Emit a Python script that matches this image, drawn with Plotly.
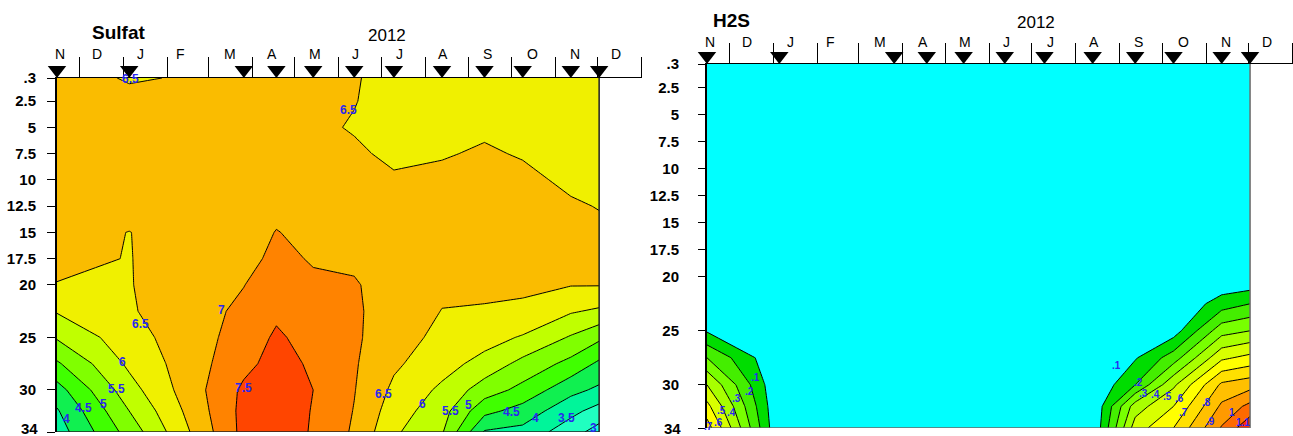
import numpy as np
import plotly.graph_objects as go

W, H = 1293, 436

# ---------------------------------------------------------------- sampling grid
sample_dates = ["2011-11-15", "2012-01-05", "2012-03-26", "2012-04-18",
                "2012-05-14", "2012-06-12", "2012-07-10", "2012-08-13",
                "2012-09-12", "2012-10-09", "2012-11-12", "2012-12-02"]
depths = [0.3, 2.5, 5, 7.5, 10, 12.5, 15, 17.5, 20, 22.5, 25, 27.5, 30, 32, 34]

depth_ticks = [0.3, 2.5, 5, 7.5, 10, 12.5, 15, 17.5, 20, 25, 30, 34]
depth_tick_text = [".3", "2.5", "5", "7.5", "10", "12.5", "15", "17.5", "20", "25", "30", "34"]

month_starts = ["2011-12-01", "2012-01-01", "2012-02-01", "2012-03-01", "2012-04-01",
                "2012-05-01", "2012-06-01", "2012-07-01", "2012-08-01", "2012-09-01",
                "2012-10-01", "2012-11-01", "2012-12-01", "2013-01-01"]
month_label_dates = ["2011-11-17", "2011-12-13", "2012-01-13", "2012-02-10", "2012-03-16",
                     "2012-04-15", "2012-05-15", "2012-06-13", "2012-07-14", "2012-08-14",
                     "2012-09-14", "2012-10-16", "2012-11-15", "2012-12-14"]
month_letters = ["N", "D", "J", "F", "M", "A", "M", "J", "J", "A", "S", "O", "N", "D"]

# ---------------------------------------------------------------- sulfate profiles (surface -> bottom)
so4_11_15 = [6.60, 6.60, 6.62, 6.63, 6.63, 6.62, 6.60, 6.57, 6.49, 6.04, 5.55, 4.93, 4.30, 3.95, 3.75]
so4_01_05 = [6.48, 6.56, 6.60, 6.62, 6.62, 6.60, 6.495, 6.49, 6.48, 6.45, 6.30, 6.10, 5.80, 5.50, 5.20]
so4_03_26 = [6.55, 6.62, 6.65, 6.67, 6.68, 6.70, 6.74, 6.80, 6.99, 7.10, 7.20, 7.35, 7.60, 7.65, 7.65]
so4_04_18 = [6.60, 6.62, 6.65, 6.68, 6.70, 6.85, 7.02, 7.15, 7.25, 7.40, 7.58, 7.70, 7.80, 7.82, 7.80]
so4_05_14 = [6.62, 6.63, 6.55, 6.65, 6.70, 6.75, 6.85, 6.95, 7.10, 7.20, 7.30, 7.42, 7.50, 7.47, 7.45]
so4_06_12 = [6.52, 6.51, 6.48, 6.54, 6.60, 6.70, 6.80, 6.90, 7.05, 7.08, 7.08, 7.05, 7.02, 6.98, 6.93]
so4_07_10 = [6.41, 6.40, 6.43, 6.45, 6.53, 6.60, 6.65, 6.70, 6.75, 6.75, 6.70, 6.58, 6.40, 6.25, 6.08]
so4_08_13 = [6.40, 6.40, 6.42, 6.48, 6.56, 6.60, 6.62, 6.62, 6.58, 6.49, 6.38, 6.20, 5.90, 5.70, 5.55]
so4_09_12 = [6.40, 6.42, 6.46, 6.53, 6.58, 6.60, 6.60, 6.58, 6.55, 6.48, 6.20, 5.82, 5.25, 4.65, 3.95]
so4_10_09 = [6.38, 6.40, 6.43, 6.48, 6.56, 6.60, 6.60, 6.58, 6.55, 6.45, 5.95, 5.35, 4.85, 4.30, 3.85]
so4_11_12 = [6.35, 6.37, 6.40, 6.43, 6.45, 6.53, 6.56, 6.56, 6.52, 6.05, 5.45, 4.85, 4.15, 3.65, 3.20]
so4_12_02 = [6.30, 6.32, 6.35, 6.40, 6.45, 6.49, 6.55, 6.56, 6.52, 5.92, 5.10, 4.40, 3.90, 3.30, 2.80]

# ---------------------------------------------------------------- H2S profiles (surface -> bottom)
h2s_11_15 = [0, 0, 0, 0, 0, 0, 0, 0, 0, 0, 0.09, 0.30, 0.50, 0.63, 0.75]
h2s_01_05 = [0, 0, 0, 0, 0, 0, 0, 0, 0, 0, 0, 0, 0, 0, 0]
h2s_03_26 = [0, 0, 0, 0, 0, 0, 0, 0, 0, 0, 0, 0, 0, 0, 0]
h2s_04_18 = [0, 0, 0, 0, 0, 0, 0, 0, 0, 0, 0, 0, 0, 0, 0]
h2s_05_14 = [0, 0, 0, 0, 0, 0, 0, 0, 0, 0, 0, 0, 0, 0, 0]
h2s_06_12 = [0, 0, 0, 0, 0, 0, 0, 0, 0, 0, 0, 0, 0, 0, 0]
h2s_07_10 = [0, 0, 0, 0, 0, 0, 0, 0, 0, 0, 0, 0, 0, 0, 0]
h2s_08_13 = [0, 0, 0, 0, 0, 0, 0, 0, 0, 0, 0, 0, 0, 0, 0]
h2s_09_12 = [0, 0, 0, 0, 0, 0, 0, 0, 0, 0, 0, 0.09, 0.20, 0.45, 0.55]
h2s_10_09 = [0, 0, 0, 0, 0, 0, 0, 0, 0, 0, 0.05, 0.25, 0.48, 0.60, 0.70]
h2s_11_12 = [0, 0, 0, 0, 0, 0, 0, 0, 0, 0.15, 0.36, 0.58, 0.82, 0.92, 1.01]
h2s_12_02 = [0, 0, 0, 0, 0, 0, 0, 0, 0, 0.20, 0.40, 0.63, 0.86, 1.03, 1.18]

so4_profiles = [so4_11_15, so4_01_05, so4_03_26, so4_04_18, so4_05_14, so4_06_12,
                so4_07_10, so4_08_13, so4_09_12, so4_10_09, so4_11_12, so4_12_02]
h2s_profiles = [h2s_11_15, h2s_01_05, h2s_03_26, h2s_04_18, h2s_05_14, h2s_06_12,
                h2s_07_10, h2s_08_13, h2s_09_12, h2s_10_09, h2s_11_12, h2s_12_02]

# contour-label placement (level text, date, depth)
so4_label_text = ["6.5", "6.5", "6.5", "7", "6", "5.5", "5", "4.5", "4", "7.5",
                  "6.5", "6", "5.5", "5", "4.5", "4", "3.5", "3"]
so4_label_dates = ["2012-01-06", "2012-06-08", "2012-01-13", "2012-03-10", "2011-12-31",
                   "2011-12-27", "2011-12-18", "2011-12-04", "2011-11-22", "2012-03-26",
                   "2012-07-03", "2012-07-30", "2012-08-19", "2012-09-01", "2012-10-01",
                   "2012-10-18", "2012-11-09", "2012-11-28"]
so4_label_depths = [0.35, 3.35, 23.7, 22.4, 27.35, 29.9, 31.3, 31.7, 32.8, 29.8,
                    30.4, 31.3, 32.0, 31.4, 32.1, 32.7, 32.7, 33.6]

h2s_label_text = [".1", ".2", ".3", ".4", ".5", ".6", ".7",
                  ".1", ".2", ".3", ".4", ".5", ".6", ".7", ".8", ".9", "1", "1.1"]
h2s_label_dates = ["2011-12-19", "2011-12-15", "2011-12-06", "2011-12-02", "2011-11-25",
                   "2011-11-23", "2011-11-16",
                   "2012-08-30", "2012-09-14", "2012-09-18", "2012-09-26", "2012-10-05",
                   "2012-10-13", "2012-10-16", "2012-11-01", "2012-11-04", "2012-11-19",
                   "2012-11-27"]
h2s_label_depths = [29.3, 30.6, 31.3, 32.6, 32.4, 33.5, 33.9,
                    28.2, 29.8, 30.8, 30.9, 31.1, 31.3, 32.6, 31.6, 33.4, 32.6, 33.5]

# ---------------------------------------------------------------- colours per contour band
so4_colors = ["#10FFE0", "#20FFC0", "#00F59A", "#10F050", "#40FF00", "#80FF00",
              "#C0FF00", "#F0F000", "#FABC00", "#FF8300", "#FF4500"]
h2s_colors = ["#00FFFF", "#00DD00", "#44EE00", "#78FF00", "#A8FF00", "#D8FF00",
              "#FFFF00", "#FFE000", "#FFC000", "#FF9A00", "#FF6A00", "#FF2800"]


def band_scale(colors):
    n = len(colors) - 1
    return [[k / n, c] for k, c in enumerate(colors)]


def grid(profiles):
    return np.array(profiles, dtype=float).T


FONT = "Liberation Sans, Arial, sans-serif"
BLUE = "#2828F0"
TRI_STRIP = 20  # px strip above the top axis holding the campaign markers

panels = [
    dict(name="Sulfat", profiles=so4_profiles, start=3.0, end=7.5, size=0.5, colors=so4_colors,
         xdom=(57, 641.6), ytop=78, ybot=432, edge="#202020",
         lab=(so4_label_text, so4_label_dates, so4_label_depths), labsize=12,
         month_y=54, year_xy=(387, 36), title_xy=(118, 32), ticklen=8, standoff=8,
         label_right=40),
    dict(name="H2S", profiles=h2s_profiles, start=0.1, end=1.1, size=0.1, colors=h2s_colors,
         xdom=(707, 1292.6), ytop=64, ybot=428, edge="#6a6a6a",
         lab=(h2s_label_text, h2s_label_dates, h2s_label_depths), labsize=10,
         month_y=42, year_xy=(1036, 23), title_xy=(731, 21), ticklen=7, standoff=16,
         label_right=683),
]

# the deepest tick label sits on the lower page edge, so it is written separately
axis_text = depth_tick_text[:-1] + [""]

fig = go.Figure()
annotations = []
layout = dict(width=W, height=H, margin=dict(l=0, r=0, t=0, b=0, autoexpand=False),
              paper_bgcolor="white", plot_bgcolor="white", showlegend=False,
              font=dict(family=FONT, color="black"))

for i, p in enumerate(panels):
    sfx = "" if i == 0 else str(i + 1)
    tsfx = str(i + 3)
    xa, ya, ta = "x" + sfx, "y" + sfx, "y" + tsfx
    z = grid(p["profiles"])

    fig.add_trace(go.Contour(
        x=sample_dates, y=depths, z=z, xaxis=xa, yaxis=ya,
        autocontour=False,
        contours=dict(start=p["start"], end=p["end"], size=p["size"],
                      coloring="fill", showlines=True),
        colorscale=band_scale(p["colors"]),
        line=dict(color="black", width=1, smoothing=0),
        showscale=False, hoverinfo="skip",
    ))

    # bottom and right edge of the gridded area
    fig.add_trace(go.Scatter(
        x=[sample_dates[0], sample_dates[-1], sample_dates[-1]],
        y=[depths[-1], depths[-1], depths[0]],
        xaxis=xa, yaxis=ya, mode="lines", cliponaxis=False,
        line=dict(color=p["edge"], width=1.5), hoverinfo="skip",
    ))

    # sampling campaigns on the top axis (strip axis in px units, 0 = axis line)
    fig.add_trace(go.Scatter(
        x=sample_dates, y=[8] * len(sample_dates), xaxis=xa, yaxis=ta,
        mode="markers", cliponaxis=False,
        marker=dict(symbol="triangle-down", size=16, color="black", line=dict(width=0)),
        hoverinfo="skip",
    ))

    x0, x1 = p["xdom"]
    layout["xaxis" + sfx] = dict(
        domain=[x0 / W, min(x1 / W, 1.0)], type="date",
        range=["2011-11-15", "2013-01-01"], side="top", anchor=ya,
        showline=True, linecolor="black", linewidth=1,
        ticks="outside", ticklen=20, tickwidth=1, tickcolor="black",
        tickvals=month_starts, showticklabels=False, automargin=False,
        showgrid=False, zeroline=False, fixedrange=True,
    )
    layout["yaxis" + sfx] = dict(
        domain=[(H - p["ybot"]) / H, (H - p["ytop"]) / H],
        range=[depths[-1], depths[0]], anchor=xa,
        showline=True, linecolor="black", linewidth=2,
        ticks="outside", ticklen=p["ticklen"], tickwidth=1, tickcolor="black",
        tickvals=depth_ticks, ticktext=axis_text,
        ticklabelstandoff=p["standoff"], automargin=False,
        tickfont=dict(family=FONT, size=15, color="black", weight="bold"),
        showgrid=False, zeroline=False, fixedrange=True,
    )
    layout["yaxis" + tsfx] = dict(
        domain=[(H - p["ytop"]) / H, (H - p["ytop"] + TRI_STRIP) / H],
        range=[0, TRI_STRIP], anchor=xa, visible=False, automargin=False,
        showgrid=False, zeroline=False, fixedrange=True,
    )

    # deepest depth label, kept inside the page
    annotations.append(dict(
        x=p["label_right"] / W, y=0, xref="paper", yref="paper",
        text="<b>" + depth_tick_text[-1] + "</b>", showarrow=False,
        xanchor="right", yanchor="bottom", yshift=-3,
        font=dict(family=FONT, size=15, color="black"),
    ))

    # month letters above the top axis
    for d, m in zip(month_label_dates, month_letters):
        annotations.append(dict(
            x=d, y=1 - p["month_y"] / H, xref=xa, yref="paper", text=m,
            showarrow=False, xanchor="center", yanchor="middle",
            font=dict(family=FONT, size=14, color="black"),
        ))
    annotations.append(dict(
        x=p["year_xy"][0] / W, y=1 - p["year_xy"][1] / H, xref="paper", yref="paper",
        text="2012", showarrow=False, xanchor="center", yanchor="middle",
        font=dict(family=FONT, size=17, color="black"),
    ))
    annotations.append(dict(
        x=p["title_xy"][0] / W, y=1 - p["title_xy"][1] / H, xref="paper", yref="paper",
        text="<b>" + p["name"] + "</b>", showarrow=False, xanchor="center", yanchor="middle",
        font=dict(family=FONT, size=19, color="black"),
    ))

    # contour level labels
    texts, ldates, ldepths = p["lab"]
    for t, d, dep in zip(texts, ldates, ldepths):
        annotations.append(dict(
            x=d, y=dep, xref=xa, yref=ya, text="<b>" + t + "</b>",
            showarrow=False, xanchor="center", yanchor="middle",
            font=dict(family=FONT, size=p["labsize"], color=BLUE),
        ))

layout["annotations"] = annotations
fig.update_layout(**layout)
fig.write_html("out.html")
